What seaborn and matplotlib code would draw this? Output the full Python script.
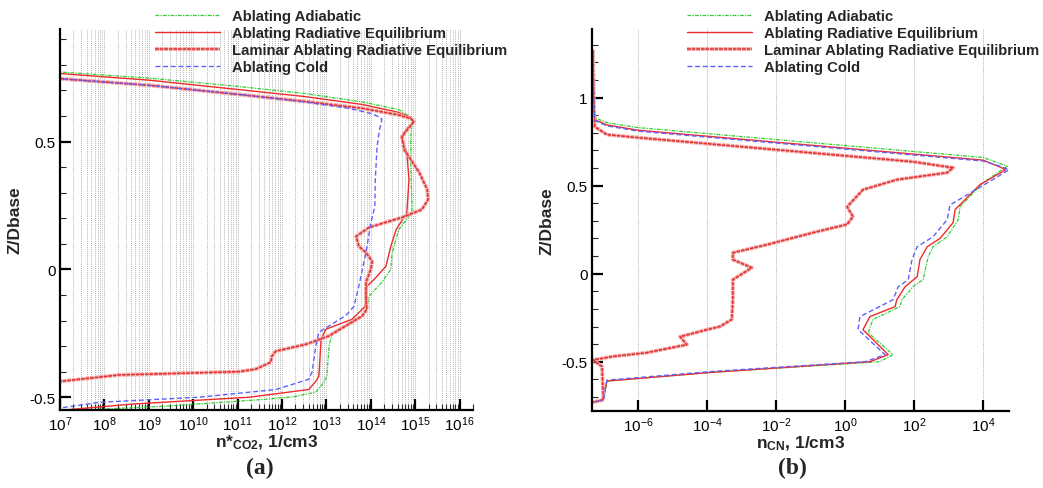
import numpy as np
import pandas as pd
import matplotlib
matplotlib.use("Agg")
import matplotlib.pyplot as plt
import matplotlib.patheffects as pe
import seaborn as sns
from matplotlib.ticker import FixedLocator, FuncFormatter, MultipleLocator, LogLocator, NullFormatter

# ---------------- data (log10 of number density, Z/Dbase) ----------------
labels = ["Ablating Adiabatic", "Ablating Radiative Equilibrium",
          "Laminar Ablating Radiative Equilibrium", "Ablating Cold"]

# Panel (a): n*_CO2
co2_adiabatic_log = [6.9, 9.0, 11.03, 12.5, 13.8, 14.63, 14.85, 14.93, 14.9, 14.9, 14.93, 14.86, 14.63, 14.48,
                     14.45, 14.25, 13.96, 13.89, 13.58, 13.13, 13.06, 13.01, 12.95, 12.76, 12.3, 11.64, 9.39, 7.88, 6.9]
co2_adiabatic_z = [0.773, 0.748, 0.715, 0.688, 0.655, 0.625, 0.600, 0.575, 0.52, 0.40, 0.234, 0.207, 0.156, 0.066,
                   0.0, -0.05, -0.105, -0.168, -0.207, -0.246, -0.30, -0.418, -0.44, -0.48, -0.497, -0.508, -0.535, -0.547, -0.556]

co2_radeq_log = [6.9, 9.0, 11.03, 12.5, 13.8, 14.6, 14.9, 14.97, 14.79, 14.7, 14.81, 14.86, 14.81, 14.57, 14.45, 14.34,
                 14.07, 13.91, 13.87, 13.58, 12.99, 12.88, 12.83, 12.75, 12.6, 11.26, 8.62, 6.9]
co2_radeq_z = [0.767, 0.740, 0.703, 0.676, 0.645, 0.615, 0.595, 0.575, 0.547, 0.51, 0.457, 0.35, 0.22, 0.156, 0.09, 0.012,
               -0.04, -0.066, -0.145, -0.195, -0.234, -0.273, -0.418, -0.44, -0.47, -0.50, -0.527, -0.553]

co2_laminar_log = [6.9, 9.0, 11.03, 12.5, 13.8, 14.6, 14.9, 14.97, 14.7, 14.75, 15.09, 15.27, 15.29, 15.15, 14.7, 13.96,
                   13.67, 13.73, 13.89, 14.03, 14.0, 13.89, 13.89, 13.91, 13.8, 13.06, 12.54, 11.86, 11.77, 11.75, 11.41,
                   11.03, 8.33, 6.9]
co2_laminar_z = [0.747, 0.720, 0.684, 0.657, 0.630, 0.605, 0.590, 0.578, 0.52, 0.469, 0.379, 0.3125, 0.273, 0.234, 0.203,
                 0.164, 0.129, 0.09, 0.066, 0.031, 0.0, -0.05, -0.105, -0.156, -0.183, -0.26, -0.293, -0.32, -0.34,
                 -0.363, -0.39, -0.40, -0.413, -0.44]

co2_cold_log = [6.9, 9.0, 11.03, 12.5, 13.5, 14.0, 14.2, 14.25, 14.2, 14.14, 14.1, 14.09, 14.0, 13.89, 13.73, 13.62,
                13.44, 12.83, 12.76, 12.68, 12.6, 11.86, 10.13, 7.88, 6.9]
co2_cold_z = [0.747, 0.720, 0.684, 0.655, 0.630, 0.610, 0.595, 0.586, 0.55, 0.48, 0.35, 0.246, 0.18, 0.066, -0.066,
              -0.145, -0.18, -0.246, -0.30, -0.40, -0.43, -0.47, -0.50, -0.52, -0.545]

# Panel (b): n_CN
cn_adiabatic_log = [-7.3, -7.28, -7.25, -6.9, -6.0, 4.0, 4.5, 4.7, 4.0, 3.33, 3.28, 2.96, 2.55, 2.41, 2.26, 1.97, 1.65,
                    1.59, 0.81, 0.67, 1.39, 1.01, -3.83, -6.9, -7.0, -7.3]
cn_adiabatic_z = [1.25, 1.0, 0.886, 0.858, 0.830, 0.660, 0.625, 0.610, 0.517, 0.38, 0.307, 0.21, 0.153, 0.097, -0.034,
                  -0.074, -0.148, -0.187, -0.26, -0.335, -0.46, -0.50, -0.56, -0.61, -0.716, -0.727]

cn_radeq_log = [-7.3, -7.28, -7.25, -6.9, -6.0, 4.0, 4.5, 4.65, 3.91, 3.19, 3.13, 2.75, 2.38, 2.17, 2.09, 1.74, 1.5,
                1.45, 0.72, 0.52, 1.25, 0.72, -3.83, -6.9, -7.0, -7.3]
cn_radeq_z = [1.27, 1.0, 0.875, 0.845, 0.815, 0.645, 0.605, 0.590, 0.506, 0.364, 0.29, 0.20, 0.153, 0.08, -0.017,
              -0.074, -0.148, -0.187, -0.244, -0.318, -0.46, -0.50, -0.56, -0.61, -0.716, -0.73]

cn_laminar_log = [-7.3, -7.28, -7.25, -6.9, -6.0, 1.97, 3.13, 2.96, 1.5, 0.52, 0.06, 0.23, 0.06, -0.93, -2.26, -3.25,
                  -3.25, -2.7, -3.25, -3.25, -3.28, -3.62, -4.0, -4.78, -4.58, -5.75, -6.72, -7.3, -7.04, -7.0, -7.3]
cn_laminar_z = [1.27, 1.0, 0.835, 0.790, 0.773, 0.636, 0.602, 0.574, 0.534, 0.477, 0.38, 0.324, 0.28, 0.233, 0.165,
                0.119, 0.08, 0.034, -0.034, -0.148, -0.26, -0.30, -0.318, -0.358, -0.403, -0.449, -0.47, -0.49,
                -0.528, -0.716, -0.73]

cn_cold_log = [-7.3, -7.28, -7.25, -6.9, -6.0, 4.0, 4.5, 4.75, 3.9, 3.04, 2.96, 2.55, 2.09, 1.94, 1.83, 1.54, 1.39,
               0.43, 0.38, 1.16, 0.58, -3.83, -6.9, -7.0, -7.3]
cn_cold_z = [1.22, 1.0, 0.870, 0.840, 0.810, 0.640, 0.610, 0.590, 0.49, 0.39, 0.307, 0.21, 0.153, 0.08, -0.034,
             -0.074, -0.148, -0.244, -0.318, -0.46, -0.50, -0.555, -0.605, -0.716, -0.73]

co2_ticks_exp = list(range(7, 17))
cn_ticks_exp = [-6, -4, -2, 0, 2, 4]

# ---------------- style ----------------
sns.set_theme(style="white")
plt.rcParams["font.family"] = ["Liberation Sans", "DejaVu Sans"]
plt.rcParams["mathtext.fontset"] = "custom"
plt.rcParams["mathtext.rm"] = "Liberation Sans"
plt.rcParams["mathtext.it"] = "Liberation Sans:italic"
plt.rcParams["mathtext.bf"] = "Liberation Sans:bold"
plt.rcParams["axes.unicode_minus"] = False

styles = [
    dict(color="#33cc33", lw=0.9, ls=(0, (3, 1, 1, 1)), fx=None),
    dict(color="#ee2b2b", lw=1.0, ls="-", fx=None),
    dict(color="#e03030", lw=1.1, ls=(0, (2.5, 0.5)),
         fx=[pe.Stroke(linewidth=2.8, foreground="#f4a8a8"), pe.Normal()]),
    dict(color="#6060ff", lw=1.0, ls=(0, (3.5, 2)), fx=None),
]

fig = plt.figure(figsize=(10.43, 4.89), dpi=100)
axA = fig.add_axes([60 / 1043, 1 - 411 / 489, (473 - 60) / 1043, (411 - 30) / 489])
axB = fig.add_axes([592 / 1043, 1 - 412 / 489, (1009 - 592) / 1043, (412 - 30) / 489])

def draw(ax, series):
    for (xl, z), lab, st in zip(series, labels, styles):
        df = pd.DataFrame({"n": np.power(10.0, xl), "z": z})
        sns.lineplot(data=df, x="n", y="z", ax=ax, sort=False, estimator=None,
                     color=st["color"], linewidth=st["lw"], linestyle=st["ls"], label=lab)
        if st["fx"] is not None:
            ax.get_lines()[-1].set_path_effects(st["fx"])

draw(axA, [(co2_adiabatic_log, co2_adiabatic_z), (co2_radeq_log, co2_radeq_z),
           (co2_laminar_log, co2_laminar_z), (co2_cold_log, co2_cold_z)])
draw(axB, [(cn_adiabatic_log, cn_adiabatic_z), (cn_radeq_log, cn_radeq_z),
           (cn_laminar_log, cn_laminar_z), (cn_cold_log, cn_cold_z)])

expfmt = FuncFormatter(lambda v, p: r"$10^{%d}$" % int(round(np.log10(v))))
yfmt = FuncFormatter(lambda v, p: f"{v:g}")

for ax in (axA, axB):
    ax.set_xscale("log")
    for s in ("top", "right"):
        ax.spines[s].set_visible(False)
    for s in ("left", "bottom"):
        ax.spines[s].set_linewidth(1.6)
        ax.spines[s].set_color("black")
    ax.yaxis.set_major_locator(MultipleLocator(0.5))
    ax.yaxis.set_minor_locator(MultipleLocator(0.1))
    ax.yaxis.set_major_formatter(yfmt)
    ax.tick_params(axis="both", which="major", direction="in", length=8, width=1.6,
                   labelsize=11, colors="black", pad=3, left=True, bottom=True)
    ax.tick_params(axis="both", which="minor", direction="in", length=4, width=0.8,
                   left=True, bottom=True)
    ax.set_ylabel("Z/Dbase", fontsize=12.5, fontweight="bold", labelpad=5)
    ax.get_legend().remove()

# panel (a)
axA.set_xlim(1e7, 2e16)
axA.set_ylim(-0.55, 0.94)
axA.xaxis.set_major_locator(FixedLocator([10.0 ** e for e in co2_ticks_exp]))
axA.xaxis.set_minor_locator(LogLocator(base=10, subs=np.arange(2, 10), numticks=50))
axA.xaxis.set_minor_formatter(NullFormatter())
axA.xaxis.set_major_formatter(expfmt)
axA.grid(True, which="both", axis="x", color="#9a9a9a", linestyle=(0, (1, 1.5)), linewidth=0.6)
axA.set_axisbelow(True)
axA.set_xlabel(r"n*$_{\mathregular{CO2}}$, 1/cm3", fontsize=12.5, fontweight="bold", labelpad=0)

# panel (b)
axB.set_xlim(10 ** -7.33, 10 ** 4.75)
axB.set_ylim(-0.78, 1.39)
axB.xaxis.set_major_locator(FixedLocator([10.0 ** e for e in cn_ticks_exp]))
axB.xaxis.set_minor_locator(FixedLocator([]))
axB.xaxis.set_major_formatter(expfmt)
axB.grid(True, which="major", axis="x", color="#9a9a9a", linestyle=(0, (1, 1.5)), linewidth=0.6)
axB.set_axisbelow(True)
axB.set_xlabel(r"n$_{\mathregular{CN}}$, 1/cm3", fontsize=12.5, fontweight="bold", labelpad=0)

# legends
for ax, x0 in ((axA, 155 / 1043), (axB, 687 / 1043)):
    h, l = ax.get_legend_handles_labels()
    leg = ax.legend(h, l, loc="upper left", bbox_to_anchor=(x0, 1 - 10 / 489),
                    bbox_transform=fig.transFigure, frameon=False,
                    prop={"weight": "bold", "size": 10.7}, handlelength=4.4, handletextpad=0.75,
                    labelspacing=0.2, borderpad=0, borderaxespad=0)
    leg.get_lines()[2].set_path_effects(styles[2]["fx"])

fig.text(260 / 1043, 1 - 468 / 489, "(a)", ha="center", va="center", fontsize=17,
         fontweight="bold", family=["Liberation Serif", "DejaVu Serif"])
fig.text(792 / 1043, 1 - 468 / 489, "(b)", ha="center", va="center", fontsize=17,
         fontweight="bold", family=["Liberation Serif", "DejaVu Serif"])

fig.savefig("out.png", dpi=100)
